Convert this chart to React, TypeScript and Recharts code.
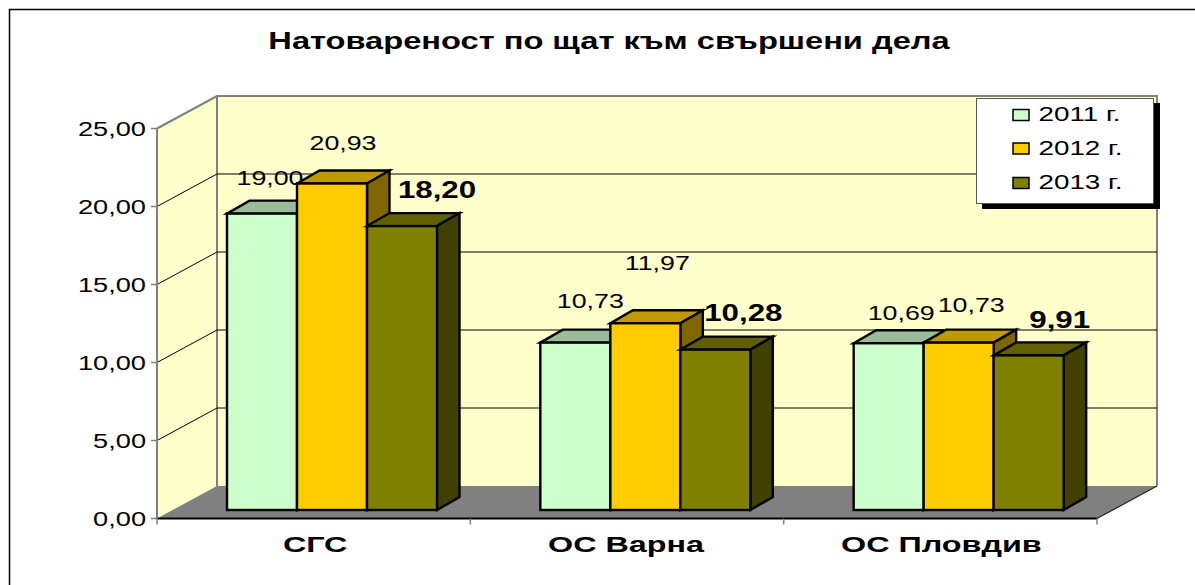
import React from "react";
import { BarChart, Bar, XAxis, YAxis, CartesianGrid, Legend, LabelList } from "recharts";

const categories = ["СГС", "ОС Варна", "ОС Пловдив"];
const values2011 = [19.0, 10.73, 10.69];
const values2012 = [20.93, 11.97, 10.73];
const values2013 = [18.2, 10.28, 9.91];
const yTicks = [0, 5, 10, 15, 20, 25];
const titleText = "Натовареност по щат към свършени дела";
const seriesNames = ["2011 г.", "2012 г.", "2013 г."];

const chartRows = categories.map((name, i) => ({
  name,
  a: values2011[i],
  b: values2012[i],
  c: values2013[i],
}));

// layout
const W = 1195;
const H = 585;
const PL = 157;
const PR = 1097;
const PT = 128.5;
const PB = 518.5;
const WALL_DX = 60;
const WALL_DY = -32.5;
const BAR_DX = 18;
const BAR_DY = -8.5;
const DEPTH_X = 22.5;
const DEPTH_Y = -13;
const FONT = "'Liberation Sans', Arial, sans-serif";

const fmt = (v: number) => v.toFixed(2).replace(".", ",");

function Stretch({ x, y, size, bold, sx, anchor, fill, children }: any) {
  return (
    <text
      transform={`translate(${x} ${y}) scale(${sx} 1)`}
      fontFamily={FONT}
      fontSize={size}
      fontWeight={bold ? 700 : 400}
      textAnchor={anchor || "middle"}
      fill={fill || "#000"}
    >
      {children}
    </text>
  );
}

function Box3D(props: any) {
  const { x, y, width, height, front, top, side } = props;
  const l = x + BAR_DX;
  const r = l + width;
  const t = y + BAR_DY;
  const b = t + height;
  return (
    <g stroke="#000" strokeWidth={2.4} strokeLinejoin="miter">
      <polygon
        points={`${l},${t} ${l + DEPTH_X},${t + DEPTH_Y} ${r + DEPTH_X},${t + DEPTH_Y} ${r},${t}`}
        fill={top}
      />
      <polygon
        points={`${r},${t} ${r + DEPTH_X},${t + DEPTH_Y} ${r + DEPTH_X},${b + DEPTH_Y} ${r},${b}`}
        fill={side}
      />
      <rect x={l} y={t} width={width} height={height} fill={front} />
    </g>
  );
}

const shapeFor = (front: string, top: string, side: string) => (p: any) => (
  <Box3D {...p} front={front} top={top} side={side} />
);

// per-label nudges from the bar's top centre: [dx, baseline dy]
const nudgeA = [[8, -29], [15, -35], [12.5, -23]];
const nudgeB = [[11, -33], [12, -53], [12.5, -31]];
const nudgeC = [[35, -28], [28, -29], [31, -27]];

const labelFor = (nudges: number[][], bold: boolean) => (p: any) => {
  const { x, y, width, value, index } = p;
  const [dx, dy] = nudges[index];
  return (
    <Stretch
      x={x + width / 2 + BAR_DX + dx}
      y={y + BAR_DY + dy}
      size={bold ? 23 : 20}
      bold={bold}
      sx={bold ? 1.36 : 1.34}
    >
      {fmt(value)}
    </Stretch>
  );
};

function Walls() {
  const x0 = PL + WALL_DX;
  const x1 = PR + WALL_DX;
  const yt = PT + WALL_DY;
  const yb = PB + WALL_DY;
  return (
    <svg width={W} height={H} style={{ position: "absolute", left: 0, top: 0 }}>
      <rect x={x0} y={yt} width={x1 - x0} height={yb - yt} fill="#FFFFCC" />
      <polygon points={`${PL},${PT} ${x0},${yt} ${x0},${yb} ${PL},${PB}`} fill="#FFFFCC" />
      <polygon points={`${PL},${PB} ${x0},${yb} ${x1},${yb} ${PR},${PB}`} fill="#808080" />
      <polyline
        points={`${PL},${PT} ${x0},${yt} ${x1},${yt} ${x1},${yb}`}
        fill="none"
        stroke="#808080"
        strokeWidth={2}
      />
      <line x1={x0} y1={yt} x2={x0} y2={yb} stroke="#808080" strokeWidth={2} />
      <line x1={PR} y1={PB} x2={x1} y2={yb} stroke="#222" strokeWidth={1.2} />
      <polyline points={`9.5,${H} 9.5,9.5 ${W},9.5`} fill="none" stroke="#000" strokeWidth={1.5} />
    </svg>
  );
}

function gridLine(p: any) {
  const { x1, x2, y1, key } = p;
  if (y1 <= PT + 1 || y1 >= PB - 1) return <g key={key} />;
  return (
    <polyline
      key={key}
      points={`${x1},${y1} ${x1 + WALL_DX},${y1 + WALL_DY} ${x2 + WALL_DX},${y1 + WALL_DY}`}
      fill="none"
      stroke="#000"
      strokeWidth={1}
    />
  );
}

function XTick(p: any) {
  const { x, payload, index } = p;
  const half = (PR - PL) / categories.length / 2;
  const nudge = [1.5, -1, 1][index] ?? 0;
  return (
    <g>
      {index === 0 && <line x1={x - half} x2={x - half} y1={PB} y2={PB + 6} stroke="#808080" strokeWidth={1.5} />}
      <line x1={x + half} x2={x + half} y1={PB} y2={PB + 6} stroke="#808080" strokeWidth={1.5} />
      <Stretch x={x + nudge} y={552} size={22} bold sx={1.47}>
        {payload.value}
      </Stretch>
    </g>
  );
}

function YTick(p: any) {
  const { y, payload } = p;
  return (
    <Stretch x={146} y={y + 7} size={20} sx={1.36} anchor="end">
      {fmt(payload.value)}
    </Stretch>
  );
}

const legendRows = [0, 33.5, 68];

function LegendBox(p: any) {
  const items: any[] = p.payload || [];
  return (
    <svg width={176} height={104} style={{ display: "block" }}>
      {items.map((it, i) => (
        <g key={i}>
          <rect x={36} y={10.5 + legendRows[i]} width={16} height={11} fill={it.color} stroke="#000" strokeWidth={1.5} />
          <Stretch x={61.5} y={22 + legendRows[i]} size={20} sx={1.39} anchor="start">
            {it.value}
          </Stretch>
        </g>
      ))}
    </svg>
  );
}

export default function App() {
  return (
    <div style={{ position: "absolute", left: 0, top: 0, width: W, height: H, background: "#fff" }}>
      <Walls />
      <BarChart
        width={W}
        height={H}
        data={chartRows}
        margin={{ top: PT, right: W - PR, bottom: 0, left: 0 }}
        barSize={70}
        barGap={0}
      >
        <Stretch x={609} y={49} size={24} bold sx={1.36}>
          {titleText}
        </Stretch>
        <CartesianGrid vertical={false} horizontal={gridLine} />
        <XAxis
          dataKey="name"
          height={H - PB}
          stroke="#000"
          axisLine={{ stroke: "#000", strokeWidth: 2 }}
          tickLine={false}
          tick={<XTick />}
          interval={0}
        />
        <YAxis
          width={PL}
          domain={[0, 25]}
          ticks={yTicks}
          axisLine={{ stroke: "#808080", strokeWidth: 2 }}
          tickLine={{ stroke: "#808080", strokeWidth: 1.5 }}
          tickSize={6}
          tick={<YTick />}
        />
        <Legend
          layout="vertical"
          align="center"
          verticalAlign="middle"
          content={<LegendBox />}
          wrapperStyle={{
            left: 976,
            top: 98,
            width: 178,
            height: 106,
            background: "#fff",
            border: "1px solid #555",
            boxSizing: "border-box",
            boxShadow: "6px 5px 0 #000",
          }}
        />
        <Bar dataKey="a" name={seriesNames[0]} fill="#CCFFCC" isAnimationActive={false} shape={shapeFor("#CCFFCC", "#99BB99", "#669966")}>
          <LabelList dataKey="a" content={labelFor(nudgeA, false)} />
        </Bar>
        <Bar dataKey="b" name={seriesNames[1]} fill="#FFCC00" isAnimationActive={false} shape={shapeFor("#FFCC00", "#BF9900", "#806600")}>
          <LabelList dataKey="b" content={labelFor(nudgeB, false)} />
        </Bar>
        <Bar dataKey="c" name={seriesNames[2]} fill="#808000" isAnimationActive={false} shape={shapeFor("#808000", "#606000", "#404000")}>
          <LabelList dataKey="c" content={labelFor(nudgeC, true)} />
        </Bar>
      </BarChart>
    </div>
  );
}
